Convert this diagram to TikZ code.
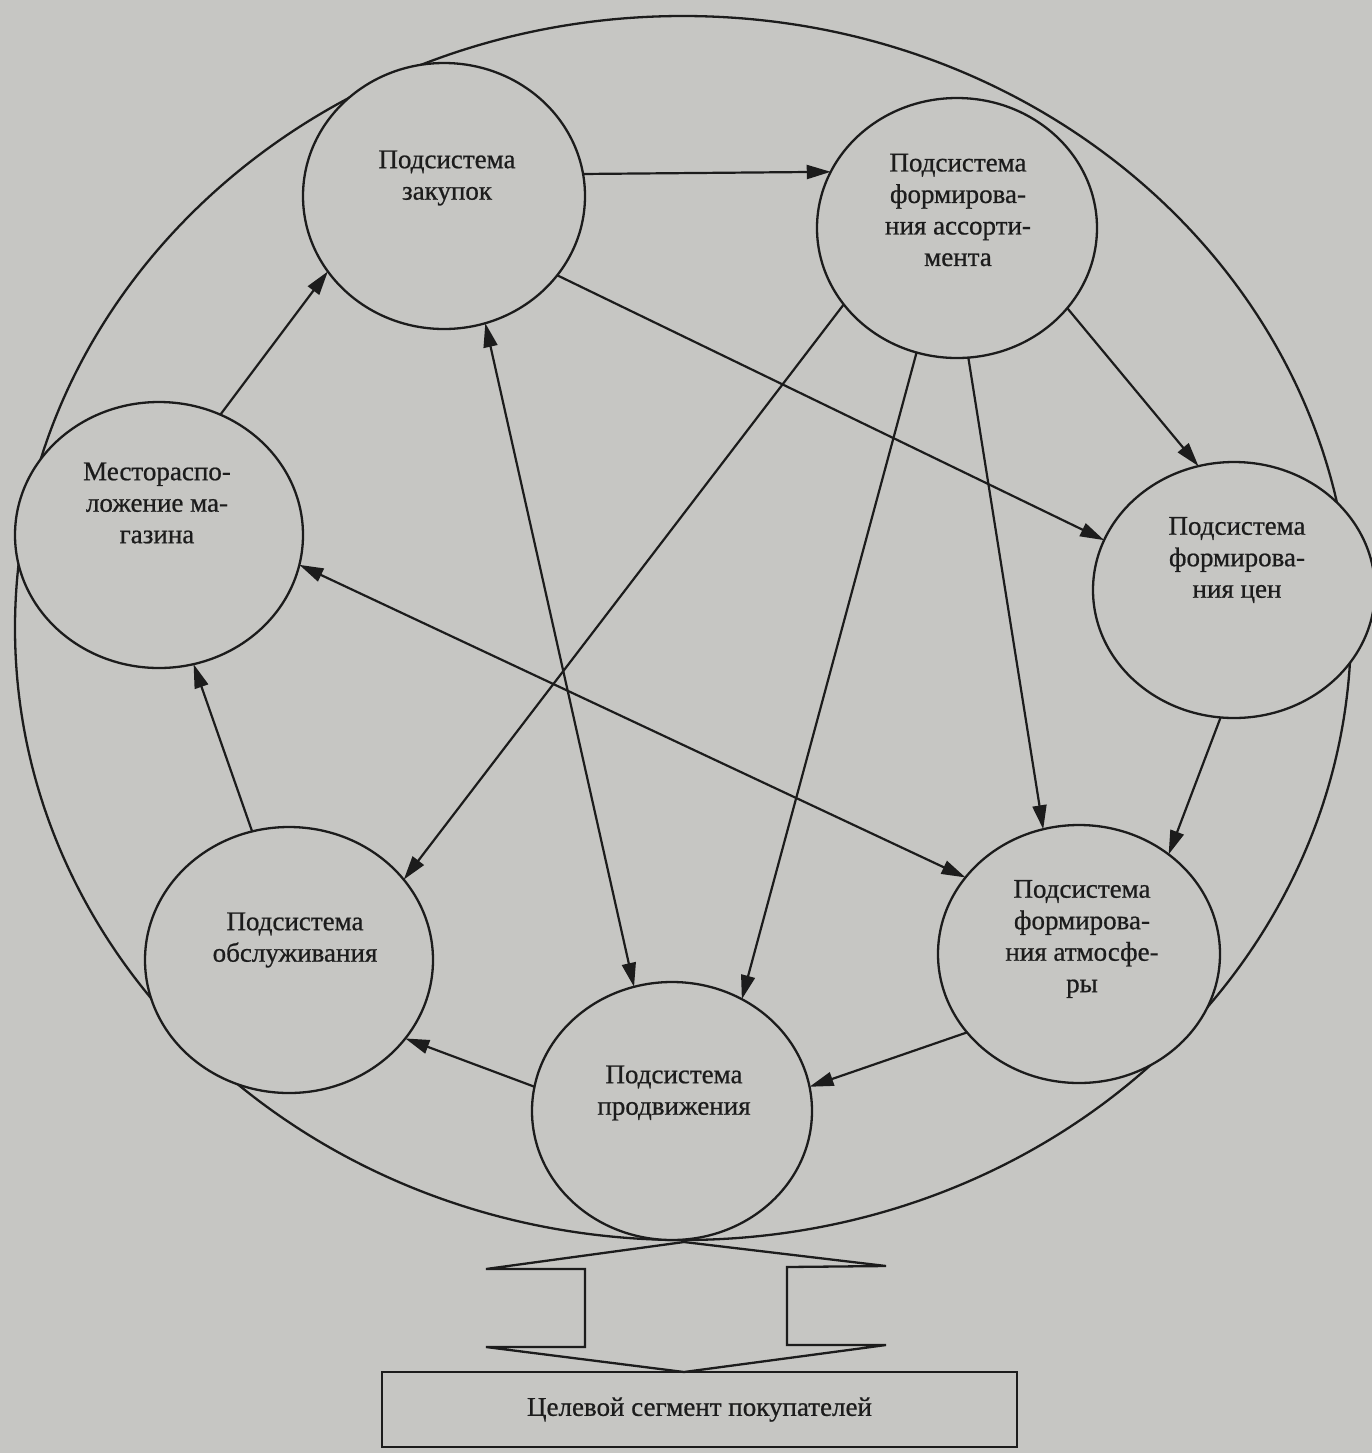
\documentclass[tikz,border=0pt]{standalone}
\usepackage{fontspec}
\setmainfont{Liberation Serif}
\newfontfamily\scanfont[FakeBold=0.7]{Liberation Serif}
\usetikzlibrary{shapes.geometric,arrows.meta}
\definecolor{paper}{RGB}{198,198,195}
\definecolor{ink}{RGB}{28,28,28}
\begin{document}
\begin{tikzpicture}[x=0.5pt,y=-0.5pt,
  >={Triangle[length=12pt,width=7pt]},
  sub/.style={ellipse, draw=ink, line width=1.15pt, fill=paper, inner sep=0pt, outer sep=0pt},
  lbl/.style={align=center, font=\scanfont\fontsize{13.5}{15.75}\selectfont, text=ink, inner sep=0pt},
  conn/.style={draw=ink, line width=1.1pt},
  outline/.style={draw=ink, line width=1.15pt}
]
\fill[paper] (0,0) rectangle (1372,1453);
\useasboundingbox (0,0) rectangle (1372,1453);

% big outer oval
\draw[outline] (683,628) ellipse [x radius=668, y radius=612];

% subsystems
\node[sub, minimum width=141pt, minimum height=133pt] (A) at (444,196) {};
\node[sub, minimum width=140pt, minimum height=130pt] (B) at (957,228) {};
\node[sub, minimum width=141pt, minimum height=128pt] (C) at (1234,590) {};
\node[sub, minimum width=144pt, minimum height=133pt] (D) at (159,535) {};
\node[sub, minimum width=141pt, minimum height=129pt] (E) at (1079,954) {};
\node[sub, minimum width=144pt, minimum height=133pt] (F) at (289,960) {};
\node[sub, minimum width=140pt, minimum height=129pt] (G) at (672,1111) {};

% labels
\node[lbl] (tA) at (447,178) {Подсистема\\закупок};
\node[lbl] (tB) at (958,210) {Подсистема\\формирова-\\ния ассорти-\\мента};
\node[lbl] (tC) at (1237,560) {Подсистема\\формирова-\\ния цен};
\node[lbl] (tD) at (157,503) {Местораспо-\\ложение ма-\\газина};
\node[lbl] (tE) at (1082,939) {Подсистема\\формирова-\\ния атмосфе-\\ры};
\node[lbl] (tF) at (295,940) {Подсистема\\обслуживания};
\node[lbl] (tG) at (674,1093) {Подсистема\\продвижения};

% connectors
\draw[conn,->] (A.9.4) -- (B.156.6);
\draw[conn,->] (D.63.8) -- (A.213.6);
\draw[conn,<->] (A.288.7) -- (G.107.1);
\draw[conn,->] (A.325.7) -- (C.159.4);
\draw[conn,->] (B.214.6) -- (F.35);
\draw[conn,->] (B.252.6) -- (G.58.4);
\draw[conn,->] (B.275.2) -- (E.106.6);
\draw[conn,->] (B.324.9) -- (C.106.5);
\draw[conn,<->] (D.348) -- (E.146.1);
\draw[conn,->] (F.106.6) -- (D.285.5);
\draw[conn,->] (G.170.7) -- (F.326.4);
\draw[conn,->] (E.215.2) -- (G.10.4);
\draw[conn,->] (C.264.8) -- (E.48.8);

% target segment box
\node[lbl, draw=ink, line width=1.15pt, fill=paper, minimum width=317.5pt, minimum height=37.5pt] (H) at (699.5,1409.5) {Целевой сегмент покупателей};

% double block arrow
\coordinate (ftop) at (684,1242);
\coordinate (fbot) at (684,1372);
\draw[outline] (ftop) -- (486,1269) -- (585,1269) -- (585,1347) -- (486,1347) -- (fbot)
  -- (886,1345) -- (787,1345) -- (787,1267) -- (886,1266) -- cycle;
\end{tikzpicture}
\end{document}
